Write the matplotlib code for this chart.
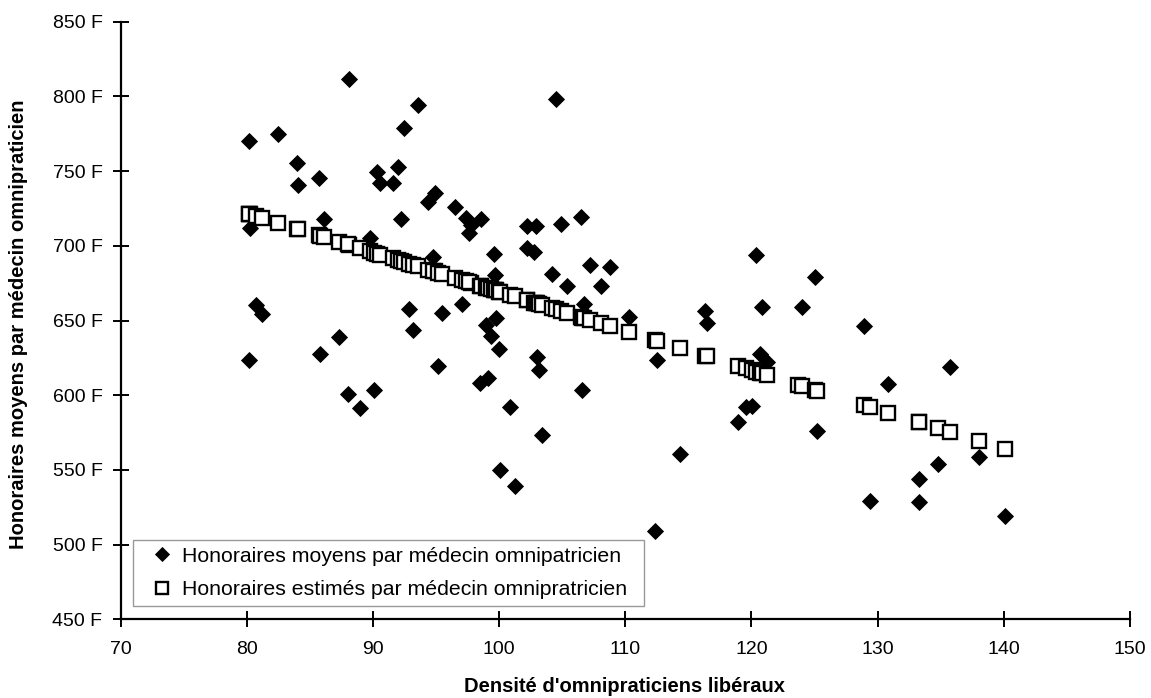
import matplotlib
matplotlib.use("Agg")
import matplotlib.pyplot as plt
from matplotlib.ticker import FuncFormatter

plt.rcParams['font.family'] = ['Liberation Sans', 'DejaVu Sans']

# Density of GPs (x) and observed mean fees (diamonds)
densite = [80.2, 80.3, 80.2, 80.7, 81.2, 82.5, 84.0, 84.1, 85.7, 85.8,
           86.1, 87.3, 88.1, 88.0, 89.0, 89.8, 90.1, 90.35, 90.6, 91.6,
           92.0, 92.2, 92.5, 92.9, 93.15, 93.6, 94.4, 94.9, 94.8, 95.2,
           95.5, 96.5, 97.1, 97.4, 97.8, 97.6, 98.5, 98.6, 99.0, 99.1,
           99.4, 99.6, 99.65, 99.75, 100.0, 100.1, 100.9, 101.25, 102.2, 102.2,
           102.8, 102.9, 103.0, 103.2, 103.4, 104.2, 104.5, 104.9, 105.4, 106.5,
           106.6, 106.75, 107.2, 108.05, 108.8, 110.3, 112.35, 112.5, 114.3, 116.3,
           116.5, 118.9, 119.6, 120.05, 120.4, 120.7, 120.8, 121.2, 123.7, 124.0,
           125.0, 125.2, 128.9, 129.4, 130.8, 133.25, 133.3, 134.8, 135.7, 138.0,
           140.1]

honoraires_moyens = [770.0, 711.7, 623.6, 660.2, 654.4, 775.0, 755.6, 740.7, 745.6, 627.4,
                     718.0, 639.0, 811.6, 601.0, 591.6, 705.0, 603.5, 749.2, 741.8, 741.8,
                     752.5, 718.0, 778.8, 657.5, 643.6, 794.0, 729.5, 735.5, 692.7, 619.7,
                     655.0, 726.0, 661.0, 718.4, 713.9, 708.8, 608.4, 718.0, 647.0, 611.7,
                     639.6, 694.5, 680.5, 651.5, 630.7, 550.0, 591.9, 539.0, 713.5, 698.3,
                     695.6, 713.5, 625.4, 616.9, 573.4, 681.1, 798.3, 714.4, 672.9, 719.0,
                     603.7, 661.3, 687.3, 672.9, 685.8, 652.5, 509.1, 623.6, 560.8, 656.6,
                     648.0, 581.9, 592.3, 592.8, 693.6, 627.6, 658.8, 622.4, 607.0, 659.2,
                     679.3, 576.2, 646.5, 529.4, 607.3, 528.3, 543.7, 554.0, 619.1, 558.6,
                     519.0]

# Estimated fees (squares)
honoraires_estimes = [721.5, 721.2, 721.5, 720.2, 718.8, 715.4, 711.5, 711.2, 707.0, 706.7,
                      706.0, 702.8, 700.7, 701.0, 698.3, 696.2, 695.4, 694.8, 694.1, 691.5,
                      690.4, 689.9, 689.1, 688.1, 687.4, 686.2, 684.1, 682.8, 683.1, 682.0,
                      681.2, 678.6, 677.0, 676.2, 675.2, 675.7, 673.3, 673.1, 672.0, 671.8,
                      671.0, 670.5, 670.3, 670.1, 669.4, 669.1, 667.0, 666.1, 663.6, 663.6,
                      662.0, 661.8, 661.5, 661.0, 660.5, 658.4, 657.6, 656.5, 655.2, 652.3,
                      652.0, 651.6, 650.5, 648.2, 646.3, 642.3, 636.9, 636.5, 631.8, 626.5,
                      626.0, 619.7, 617.9, 616.7, 615.8, 615.0, 614.7, 613.6, 607.1, 606.3,
                      603.7, 603.1, 593.4, 592.1, 588.4, 582.0, 581.8, 577.9, 575.5, 569.5,
                      563.9]

x_ticks = [70, 80, 90, 100, 110, 120, 130, 140, 150]
y_ticks = [450, 500, 550, 600, 650, 700, 750, 800, 850]

label_moyens = "Honoraires moyens par médecin omnipatricien"
label_estimes = "Honoraires estimés par médecin omnipratricien"

W, H = 1151, 698
ax_l, ax_r, ax_t, ax_b = 120.5, 1130.0, 21.7, 619.3
aw, ah = ax_r - ax_l, ax_b - ax_t

fig = plt.figure(figsize=(W / 100, H / 100), dpi=100)
ax = fig.add_axes([ax_l / W, 1 - ax_b / H, aw / W, ah / H])

ax.plot(densite, honoraires_moyens, linestyle='none', marker='D', markersize=7.8,
        markerfacecolor='black', markeredgecolor='black', markeredgewidth=0.6,
        label=label_moyens, zorder=3)
ax.plot(densite, honoraires_estimes, linestyle='none', marker='s', markersize=9.4,
        markerfacecolor='white', markeredgecolor='black', markeredgewidth=1.7,
        label=label_estimes, zorder=4)

ax.set_xlim(70, 150)
ax.set_ylim(450, 850)
ax.set_xticks(x_ticks)
ax.set_yticks(y_ticks)
ax.yaxis.set_major_formatter(FuncFormatter(lambda v, p: f"{int(v)} F"))

for s in ['top', 'right']:
    ax.spines[s].set_visible(False)
for s in ['left', 'bottom']:
    ax.spines[s].set_linewidth(1.6)
    ax.spines[s].set_color('black')
    ax.spines[s].set_zorder(5)

ax.tick_params(axis='both', direction='inout', length=11, width=1.4, labelsize=14,
               colors='black')
ax.tick_params(axis='x', pad=10)
ax.tick_params(axis='y', pad=7.5)

ax.set_xlabel("Densité d'omnipraticiens libéraux", fontsize=14.5, fontweight='bold')
ax.set_ylabel("Honoraires moyens par médecin omnipraticien", fontsize=14.5, fontweight='bold')
ax.xaxis.set_label_coords((625 - ax_l) / aw, -0.096)
ax.yaxis.set_label_coords(-0.092, (ax_b - 324) / ah)

# legend box: x 132.7..644.3, y 541.7..606 (pixels)
lx0 = (132.7 - ax_l) / aw
ly0 = (ax_b - 606) / ah
lw = (644.3 - 132.7) / aw
lh = (606 - 541.7) / ah
leg = ax.legend(loc='lower left', bbox_to_anchor=(lx0, ly0, lw, lh), mode='expand',
                fontsize=15.3, frameon=True, fancybox=False, borderpad=0.31,
                handletextpad=-0.15, handlelength=2.15, labelspacing=0.7,
                borderaxespad=0, markerscale=0.85)
leg.get_frame().set_edgecolor('#808080')
leg.get_frame().set_linewidth(1.0)
leg.set_zorder(10)

fig.savefig("out.png", dpi=100)
